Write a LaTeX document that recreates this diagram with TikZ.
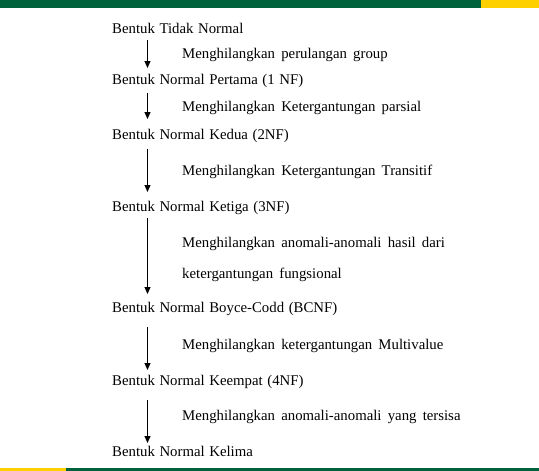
\documentclass[tikz,border=0pt]{standalone}
\usepackage{fontspec}
\setmainfont{Liberation Serif}
\usetikzlibrary{arrows.meta}
\definecolor{bargreen}{RGB}{0,98,60}
\definecolor{baryellow}{RGB}{255,208,0}
\newcommand\stagesp{\spaceskip 4.6pt\relax}
\newcommand\actionsp{\spaceskip 6.2pt\relax}
\tikzset{
  stage/.style={anchor=base west, inner sep=0pt, font=\fontsize{14.8}{16}\selectfont, execute at begin node=\stagesp, text=black},
  action/.style={anchor=base west, inner sep=0pt, font=\fontsize{14.8}{16}\selectfont, execute at begin node=\actionsp, text=black},
  flow/.style={-{Triangle[length=7pt,width=6pt]}, line width=1pt, black}
}
\begin{document}
\begin{tikzpicture}[x=1pt,y=-1pt]
\useasboundingbox (0,0) rectangle (539,471);
% bars
\fill[bargreen] (0,0) rectangle (481,8);
\fill[baryellow] (481,0) rectangle (539,8);
\fill[baryellow] (0,468) rectangle (66,471);
\fill[bargreen] (66,468) rectangle (539,471);
\coordinate (axis) at (147.5,0);
% texts
\node[stage]  (s0) at (112,33)  {Bentuk Tidak Normal};
\node[action] (a1) at (182,58)  {Menghilangkan perulangan group};
\node[stage]  (s1) at (112,84)  {Bentuk Normal Pertama (1 NF)};
\node[action] (a2) at (182,111) {Menghilangkan Ketergantungan parsial};
\node[stage]  (s2) at (112,139) {Bentuk Normal Kedua (2NF)};
\node[action] (a3) at (182,175) {Menghilangkan Ketergantungan Transitif};
\node[stage]  (s3) at (112,211) {Bentuk Normal Ketiga (3NF)};
\node[action] (a4) at (182,247) {Menghilangkan anomali-anomali hasil dari};
\node[action] (a4b) at (182,278) {ketergantungan fungsional};
\node[stage]  (s4) at (112,312) {Bentuk Normal Boyce-Codd (BCNF)};
\node[action] (a5) at (182,349) {Menghilangkan ketergantungan Multivalue};
\node[stage]  (s5) at (112,385) {Bentuk Normal Keempat (4NF)};
\node[action] (a6) at (182,420) {Menghilangkan anomali-anomali yang tersisa};
\node[stage]  (s6) at (112,456) {Bentuk Normal Kelima};
% arrows
\draw[flow] ([yshift=-7pt]s0.base -| axis) -- ([yshift=16pt]s1.base -| axis);
\draw[flow] ([yshift=-9pt]s1.base -| axis) -- ([yshift=20pt]s2.base -| axis);
\draw[flow] ([yshift=-10pt]s2.base -| axis) -- ([yshift=19pt]s3.base -| axis);
\draw[flow] ([yshift=-7pt]s3.base -| axis) -- ([yshift=18pt]s4.base -| axis);
\draw[flow] ([yshift=-15pt]s4.base -| axis) -- ([yshift=15pt]s5.base -| axis);
\draw[flow] ([yshift=-15pt]s5.base -| axis) -- ([yshift=13pt]s6.base -| axis);
\end{tikzpicture}
\end{document}
